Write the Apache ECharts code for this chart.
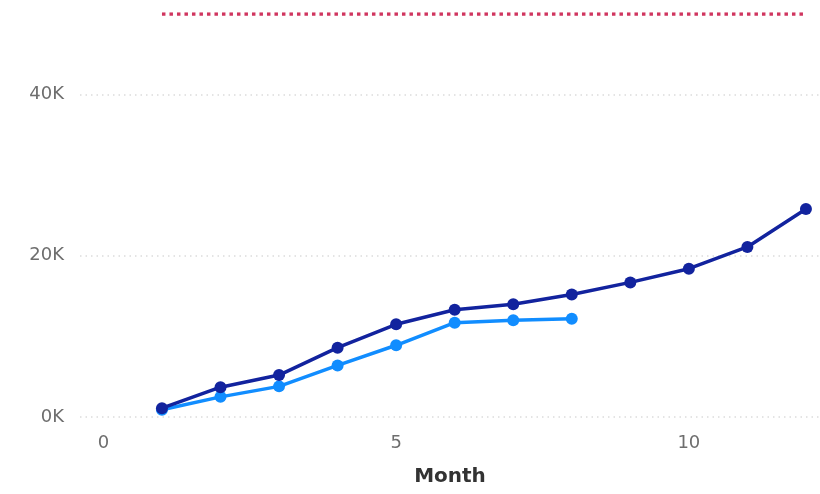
<!DOCTYPE html>
<html>
<head>
    <meta charset="utf-8">
    <title>Month chart</title>
</head>
<body style="margin:0;background:#fff;">

    <div id="main" style="width: 820px; height: 494px;"></div>
    <script src="https://cdn.jsdelivr.net/npm/echarts@6/dist/echarts.min.js"></script>
    <script type="text/javascript">
        // data
        var months = [1, 2, 3, 4, 5, 6, 7, 8, 9, 10, 11, 12];
        var darkValues = [1100, 3700, 5200, 8600, 11500, 13300, 14000, 15200, 16700, 18400, 21100, 25800];
        var lightValues = [900, 2500, 3800, 6400, 8900, 11700, 12000, 12200];
        var targetValues = [50000, 50000, 50000, 50000, 50000, 50000, 50000, 50000, 50000, 50000, 50000, 50000];
        var xTickLabels = [0, 5, 10];

        function pairs(vals) {
            return vals.map(function (v, i) { return [months[i], v]; });
        }

        var chartDom = document.getElementById('main');
        var myChart = echarts.init(chartDom);
        var font = 'DejaVu Sans';

        var option = {
            animation: false,
            grid: { left: 80, right: 0, top: 14, bottom: 77 },
            xAxis: {
                type: 'value',
                min: -0.4,
                max: 12.24,
                name: 'Month',
                nameLocation: 'middle',
                nameGap: 50,
                nameTextStyle: { color: '#333', fontSize: 20, fontWeight: 'bold', fontFamily: font },
                axisLine: { show: false },
                axisTick: { show: false },
                splitLine: { show: false },
                axisLabel: {
                    customValues: xTickLabels,
                    color: '#6e6e6e',
                    fontSize: 18,
                    fontFamily: font,
                    margin: 17
                }
            },
            yAxis: {
                type: 'value',
                min: 0,
                max: 50000,
                interval: 20000,
                axisLine: { show: false },
                axisTick: { show: false },
                axisLabel: {
                    showMaxLabel: false,
                    color: '#6e6e6e',
                    fontSize: 18,
                    fontFamily: font,
                    margin: 16,
                    formatter: function (v) { return (v / 1000) + 'K'; }
                },
                splitLine: {
                    showMaxLine: false,
                    lineStyle: { color: '#dcdcdc', width: 1.5, type: [1.5, 4] }
                }
            },
            series: [
                {
                    name: 'Target',
                    type: 'line',
                    data: pairs(targetValues),
                    showSymbol: false,
                    symbol: 'none',
                    lineStyle: { color: '#d0355f', width: 3.5, type: [3.5, 4] }
                },
                {
                    name: 'Series A',
                    type: 'line',
                    data: pairs(lightValues),
                    symbol: 'circle',
                    symbolSize: 12,
                    itemStyle: { color: '#118DFF' },
                    lineStyle: { color: '#118DFF', width: 3.5 }
                },
                {
                    name: 'Series B',
                    type: 'line',
                    data: pairs(darkValues),
                    symbol: 'circle',
                    symbolSize: 12,
                    itemStyle: { color: '#12239E' },
                    lineStyle: { color: '#12239E', width: 3.5 }
                }
            ]
        };

        option && myChart.setOption(option);
    </script>
</body>
</html>
